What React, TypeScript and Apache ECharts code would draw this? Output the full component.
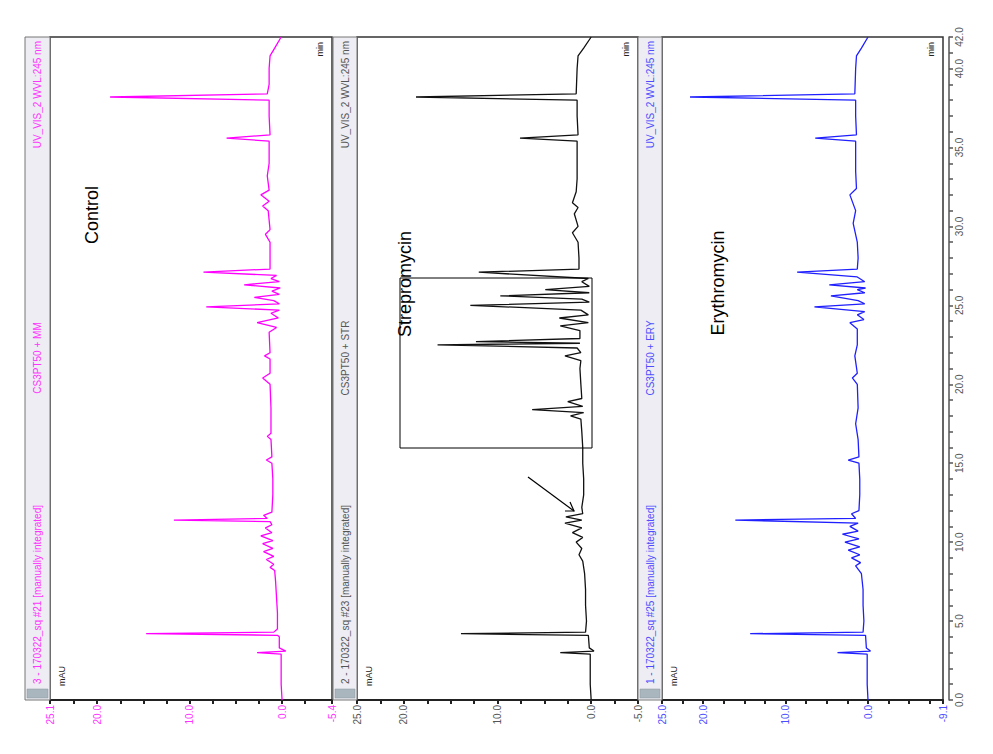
import React, { useEffect, useRef } from "react";
import * as echarts from "echarts";

// ---------- data (retention time in min, absorbance in mAU) ----------
const timeLabelValues = [0, 5, 10, 15, 20, 25, 30, 35, 40, 42];
const timeTickValues = Array.from({ length: 43 }, (_, i) => i);

const controlLabelValues = [25.1, 20, 10, 0, -5.4];
const controlTickValues = [25.1, 22.5, 20, 17.5, 15, 12.5, 10, 7.5, 5, 2.5, 0, -2.5, -5.4];
const strepLabelValues = [25, 20, 10, 0, -5];
const strepTickValues = [25, 22.5, 20, 17.5, 15, 12.5, 10, 7.5, 5, 2.5, 0, -2.5, -5];
const eryLabelValues = [25, 20, 10, 0, -9.1];
const eryTickValues = [25, 22.5, 20, 17.5, 15, 12.5, 10, 7.5, 5, 2.5, 0, -2.5, -5, -7.5, -9.1];

const controlTrace: [number, number][] = [
  [0.0, 0.0], [1.0, 0.1], [2.0, 0.1], [2.9, 0.1], [3.0, 2.7], [3.1, -0.4], [3.3, 0.3],
  [4.0, 0.3], [4.1, 0.5], [4.2, 14.7], [4.3, 0.9], [4.5, 0.5], [5.5, 0.5], [6.5, 0.6],
  [7.5, 0.7], [8.2, 0.8], [8.4, 1.3], [8.6, 0.9], [8.9, 1.7], [9.1, 0.9], [9.4, 2.0],
  [9.6, 1.0], [9.9, 2.1], [10.1, 1.0], [10.4, 2.3], [10.6, 1.1], [10.9, 1.8], [11.1, 1.1],
  [11.3, 1.3], [11.4, 11.7], [11.5, 1.6], [11.7, 2.0], [11.9, 1.1], [13.0, 1.0], [14.0, 1.0],
  [15.0, 1.1], [15.2, 1.7], [15.4, 1.1], [16.5, 1.2], [16.7, 1.6], [16.9, 1.2], [18.5, 1.2],
  [20.0, 1.3], [20.4, 2.1], [20.7, 1.3], [21.6, 1.3], [21.8, 1.9], [22.0, 1.3], [23.3, 1.4],
  [23.6, 0.6], [23.9, 2.7], [24.2, 0.4], [24.5, 1.2], [24.7, 0.3], [24.9, 8.2], [25.1, 0.3],
  [25.3, 0.9], [25.5, 3.0], [25.7, 0.3], [25.9, 1.1], [26.1, 0.2], [26.3, 4.1], [26.5, 0.3],
  [26.7, 1.2], [26.9, 0.6], [27.1, 8.5], [27.3, 1.3], [28.0, 1.3], [29.0, 1.3], [29.5, 1.8],
  [29.8, 1.3], [31.0, 1.5], [31.3, 2.1], [31.6, 1.4], [32.0, 2.3], [32.3, 1.4], [33.2, 1.6],
  [34.0, 1.4], [35.4, 1.4], [35.6, 6.0], [35.8, 1.3], [37.0, 1.4], [38.0, 1.4], [38.2, 18.6],
  [38.4, 1.6], [39.0, 1.4], [40.0, 1.4], [40.8, 1.3], [41.3, 0.8], [42.0, 0.1],
];

const strepTrace: [number, number][] = [
  [0.0, 0.0], [1.0, 0.1], [2.0, 0.1], [2.9, 0.1], [3.0, 3.3], [3.1, -0.3], [3.3, 0.2],
  [4.1, 0.3], [4.2, 13.9], [4.3, 0.6], [5.0, 0.5], [6.0, 0.6], [7.0, 0.6], [8.0, 0.7],
  [8.8, 0.9], [9.2, 1.3], [9.6, 1.0], [10.0, 1.6], [10.3, 0.9], [10.6, 2.0], [10.9, 1.0],
  [11.2, 2.8], [11.4, 1.0], [11.6, 2.7], [11.8, 0.9], [12.2, 1.0], [13.0, 0.8], [14.0, 0.8],
  [15.0, 0.9], [16.0, 0.9], [17.0, 1.0], [17.8, 1.1], [18.0, 2.2], [18.2, 0.8], [18.4, 6.3],
  [18.6, 0.9], [18.9, 2.5], [19.1, 1.0], [20.0, 1.1], [21.0, 1.2], [21.5, 1.1], [21.8, 2.8],
  [22.0, 1.1], [22.3, 1.5], [22.5, 16.4], [22.6, 1.2], [22.7, 12.3], [22.9, 1.2], [23.4, 1.2],
  [23.7, 3.3], [23.9, 0.3], [24.2, 3.4], [24.4, 0.3], [24.7, 1.1], [25.0, 12.9], [25.2, 0.2],
  [25.4, 1.0], [25.6, 9.7], [25.8, 0.2], [26.0, 4.9], [26.2, 0.2], [26.5, 1.0], [26.7, 0.3],
  [27.1, 12.0], [27.3, 1.3], [28.0, 1.3], [29.0, 1.4], [29.6, 2.0], [30.0, 1.4], [30.8, 1.8],
  [31.2, 1.4], [31.5, 2.0], [32.2, 1.6], [33.0, 1.5], [34.0, 1.5], [35.4, 1.5], [35.6, 7.6],
  [35.8, 1.4], [37.0, 1.5], [38.0, 1.5], [38.2, 18.7], [38.4, 1.6], [40.0, 1.5], [40.8, 1.4],
  [41.3, 0.8], [42.0, 0.0],
];

const eryTrace: [number, number][] = [
  [0.0, 0.0], [1.0, 0.1], [2.0, 0.1], [2.9, 0.1], [3.0, 3.7], [3.1, -0.3], [3.3, 0.2],
  [4.1, 0.3], [4.2, 14.3], [4.3, 0.6], [5.0, 0.5], [6.0, 0.6], [7.0, 0.6], [8.0, 0.8],
  [8.5, 1.5], [8.7, 0.9], [9.0, 2.0], [9.2, 1.0], [9.5, 2.4], [9.7, 1.0], [10.0, 2.8],
  [10.2, 1.1], [10.5, 3.1], [10.7, 1.2], [11.0, 2.2], [11.2, 1.2], [11.4, 16.1], [11.5, 1.5],
  [11.8, 2.0], [12.0, 1.1], [13.0, 1.0], [14.0, 1.0], [15.0, 1.1], [15.2, 2.4], [15.4, 1.1],
  [16.5, 1.2], [17.5, 1.5], [18.5, 1.2], [20.0, 1.3], [20.4, 1.9], [20.7, 1.3], [21.8, 1.6],
  [22.5, 1.3], [23.5, 1.3], [23.9, 2.2], [24.1, 0.5], [24.4, 1.3], [24.6, 0.4], [24.9, 6.5],
  [25.1, 0.4], [25.3, 1.2], [25.6, 4.5], [25.8, 0.4], [26.0, 1.3], [26.1, 0.3], [26.3, 4.7],
  [26.5, 0.4], [26.8, 1.3], [27.1, 8.6], [27.3, 1.3], [28.0, 1.2], [29.0, 1.3], [30.2, 1.8],
  [31.0, 1.5], [32.0, 2.2], [32.4, 1.4], [33.5, 1.5], [35.4, 1.5], [35.6, 6.4], [35.8, 1.4],
  [37.0, 1.5], [38.0, 1.5], [38.2, 21.6], [38.4, 1.6], [40.0, 1.5], [40.8, 1.4], [41.3, 0.8],
  [42.0, 0.0],
];

const panelTitles = ["Control", "Strepromycin", "Erythromycin"];
const stripRunLabels = [
  "3 - 170322_sq #21 [manually integrated]",
  "2 - 170322_sq #23 [manually integrated]",
  "1 - 170322_sq #25 [manually integrated]",
];
const stripSampleLabels = ["CS3PT50 + MM", "CS3PT50 + STR", "CS3PT50 + ERY"];
const stripDetectorLabel = "UV_VIS_2 WVL:245 nm";

// ---------- layout / styles ----------
const NARROW = "'Liberation Sans Narrow', 'Arial Narrow', 'Liberation Sans', Arial, sans-serif";
const SANS = "'Liberation Sans', Arial, sans-serif";
const R = Math.PI / 2;

const panels = [
  { left: 50, width: 282, stripX: 25, stripW: 25, color: "#ff00ff", labelColor: "#ff33ff", min: -5.4, max: 25.1, labels: controlLabelValues, ticks: controlTickValues, trace: controlTrace, titleX: 92, titleY: 215 },
  { left: 357, width: 281, stripX: 333, stripW: 24, color: "#111111", labelColor: "#555555", min: -5, max: 25, labels: strepLabelValues, ticks: strepTickValues, trace: strepTrace, titleX: 405, titleY: 284 },
  { left: 662, width: 281, stripX: 638, stripW: 24, color: "#1f1fff", labelColor: "#4d4dff", min: -9.1, max: 25, labels: eryLabelValues, ticks: eryTickValues, trace: eryTrace, titleX: 718, titleY: 283 },
];
const TOP = 37;
const HEIGHT = 663;

export default function App() {
  const ref = useRef<HTMLDivElement>(null);

  useEffect(() => {
    if (!ref.current) return;
    const chart = echarts.init(ref.current, undefined, { renderer: "svg" });

    const graphics: any[] = [];
    panels.forEach((p, i) => {
      const cx = p.stripX + p.stripW / 2;
      graphics.push({
        type: "rect",
        shape: { x: p.stripX, y: TOP, width: p.stripW, height: HEIGHT },
        style: { fill: "#ededf3", stroke: "#777", lineWidth: 1 },
        z: 1,
      });
      graphics.push({
        type: "rect",
        shape: { x: p.stripX + 2, y: 689, width: p.stripW - 4, height: 9 },
        style: { fill: "#aab6be", stroke: "#8a949a", lineWidth: 0.5 },
        z: 2,
      });
      graphics.push({
        type: "text", x: cx, y: 684, rotation: R, z: 3,
        style: { text: stripRunLabels[i], fill: p.labelColor, fontSize: 10, fontFamily: NARROW, align: "left", verticalAlign: "middle" },
      });
      graphics.push({
        type: "text", x: cx, y: 358, rotation: R, z: 3,
        style: { text: stripSampleLabels[i], fill: p.labelColor, fontSize: 10, fontFamily: NARROW, align: "center", verticalAlign: "middle" },
      });
      graphics.push({
        type: "text", x: cx, y: 41, rotation: R, z: 3,
        style: { text: stripDetectorLabel, fill: p.labelColor, fontSize: 10, fontFamily: NARROW, align: "right", verticalAlign: "middle" },
      });
      graphics.push({
        type: "text", x: p.left + 12, y: 686, rotation: R, z: 3,
        style: { text: "mAU", fill: "#222", fontSize: 9, fontFamily: NARROW, align: "left", verticalAlign: "middle" },
      });
      graphics.push({
        type: "text", x: p.left + p.width - 12, y: 42, rotation: R, z: 3,
        style: { text: "min", fill: "#222", fontSize: 9, fontFamily: NARROW, align: "right", verticalAlign: "middle" },
      });
      graphics.push({
        type: "text", x: p.titleX, y: p.titleY, rotation: R, z: 5,
        style: { text: panelTitles[i], fill: "#000", fontSize: 18, fontFamily: SANS, align: "center", verticalAlign: "middle" },
      });
    });
    // highlight box and arrow in the Strepromycin panel
    graphics.push({
      type: "rect", z: 5,
      shape: { x: 400, y: 278, width: 192, height: 170 },
      style: { fill: "none", stroke: "#000", lineWidth: 1 },
    });
    graphics.push({
      type: "line", z: 5,
      shape: { x1: 528, y1: 477, x2: 574, y2: 511 },
      style: { stroke: "#000", lineWidth: 1.2 },
    });
    graphics.push({
      type: "polyline", z: 5,
      shape: { points: [[565, 511], [574, 511], [570, 502]] },
      style: { stroke: "#000", lineWidth: 1.2, fill: "none" },
    });

    const option: any = {
      animation: false,
      backgroundColor: "#ffffff",
      grid: panels.map((p) => ({
        left: p.left, top: TOP, width: p.width, height: HEIGHT,
        show: true, borderColor: "#333", borderWidth: 1.5, backgroundColor: "#fff",
        containLabel: false,
      })),
      xAxis: panels.map((p, i) => ({
        type: "value", gridIndex: i, min: p.min, max: p.max, inverse: true,
        axisLine: { show: true, onZero: false, lineStyle: { color: "#222", width: 2 } },
        axisTick: { show: true, customValues: p.ticks, length: 4, lineStyle: { color: "#222", width: 2 } },
        axisLabel: {
          show: true, customValues: p.labels, rotate: 90, color: p.labelColor,
          fontSize: 10, fontFamily: NARROW, margin: 5,
          formatter: (v: number) => Number(v).toFixed(1),
        },
        splitLine: { show: false },
      })),
      yAxis: panels.map((p, i) => ({
        type: "value", gridIndex: i, min: 0, max: 42,
        show: i === 2, position: "right", offset: 6,
        axisLine: { show: true, onZero: false, lineStyle: { color: "#555", width: 1.5 } },
        axisTick: { show: true, customValues: timeTickValues, length: 4, lineStyle: { color: "#555", width: 1.5 } },
        axisLabel: {
          show: true, customValues: timeLabelValues, rotate: 90, color: "#555",
          fontSize: 10, fontFamily: NARROW, margin: 5,
          formatter: (v: number) => Number(v).toFixed(1),
        },
        splitLine: { show: false },
      })),
      series: panels.map((p, i) => ({
        type: "line", xAxisIndex: i, yAxisIndex: i,
        data: p.trace.map(([t, v]) => [v, t]),
        showSymbol: false, symbol: "none", silent: true,
        lineStyle: { color: p.color, width: 1.3 },
        itemStyle: { color: p.color },
        z: 4,
      })),
      graphic: graphics,
    };

    chart.setOption(option);
    return () => chart.dispose();
  }, []);

  return (
    <div
      ref={ref}
      style={{ position: "fixed", left: 0, top: 0, width: 993, height: 754, background: "#fff" }}
    />
  );
}
